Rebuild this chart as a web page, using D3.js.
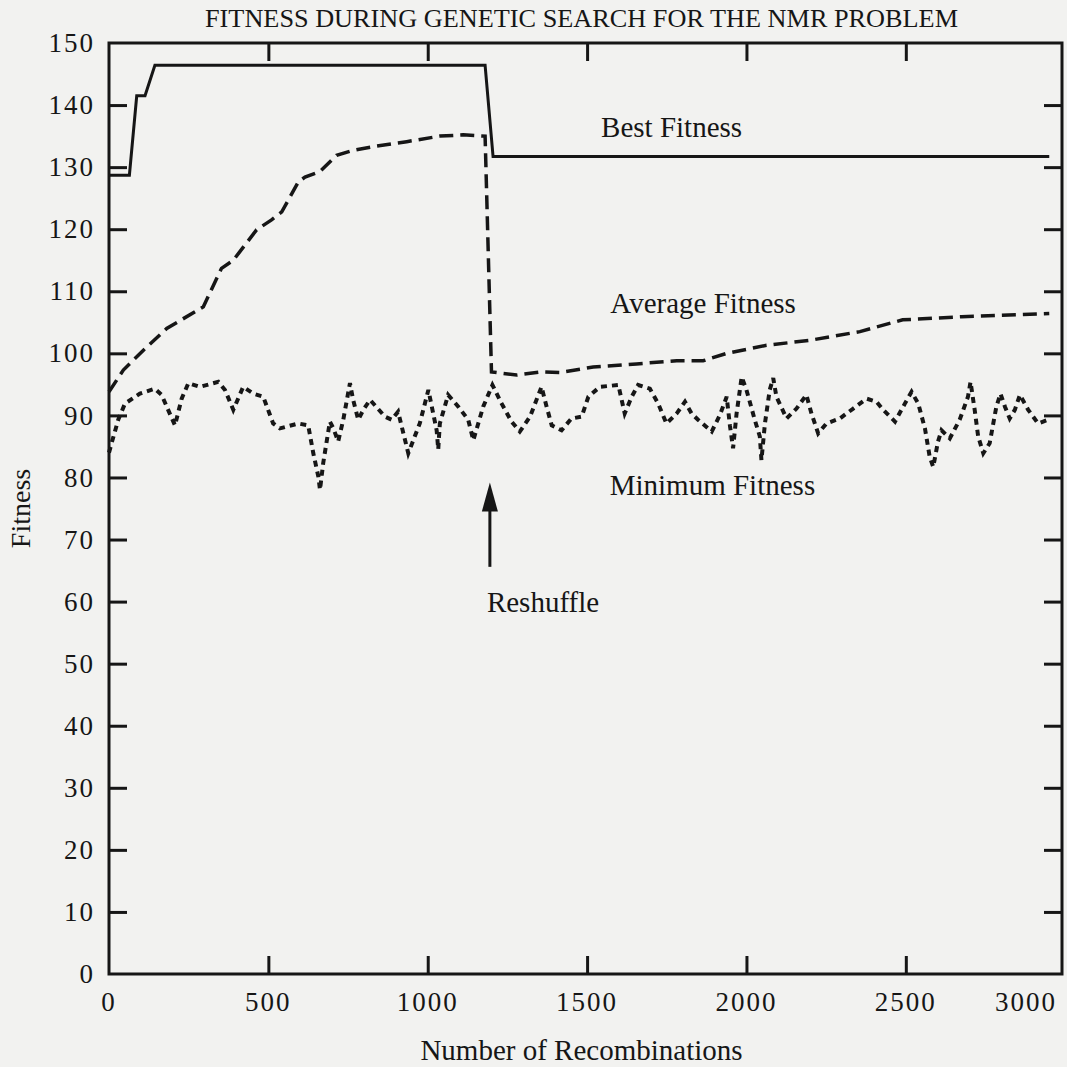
<!DOCTYPE html>
<html>
<head>
<meta charset="utf-8">
<script src="https://cdn.jsdelivr.net/npm/d3@7"></script>
<style>
  html, body { margin: 0; padding: 0; background: #f2f2f0; }
  svg { display: block; }
  text { font-family: "Liberation Serif", "Times New Roman", serif; fill: #161616; }
</style>
</head>
<body>
<svg id="chart" width="1067" height="1067"></svg>
<script>
// Recombinations (x) and fitness (y) for each population statistic
const bestFitness = [
  [0, 128.7], [64, 128.7], [87, 141.5], [113, 141.5], [144, 146.4],
  [1180, 146.4], [1205, 131.7], [2950, 131.7]
];

const averageFitness = [
  [0, 93.8], [45, 97.3], [108, 100.5], [181, 104.0], [296, 107.5], [353, 113.7],
  [390, 115.0], [463, 119.9], [510, 121.5], [542, 122.8], [594, 127.6], [615, 128.4],
  [662, 129.3], [714, 131.9], [766, 132.7], [829, 133.3], [934, 134.1], [1038, 135.0],
  [1111, 135.2], [1180, 135.0], [1200, 97.0], [1279, 96.5], [1352, 97.0], [1415, 96.9],
  [1519, 97.8], [1655, 98.3], [1781, 98.8], [1864, 98.8], [1938, 100.0], [2063, 101.3],
  [2199, 102.1], [2356, 103.5], [2490, 105.4], [2675, 105.9], [2950, 106.4]
];

const minimumFitness = [
  [0, 84.0], [8, 85.5], [29, 89.3], [50, 91.9], [97, 93.5], [144, 94.3], [165, 93.3],
  [207, 88.4], [228, 92.7], [249, 95.2], [285, 94.6], [343, 95.4], [364, 94.1],
  [390, 90.9], [421, 94.6], [453, 93.5], [484, 93.0], [515, 88.7], [536, 87.9],
  [594, 88.7], [625, 88.4], [641, 83.9], [657, 80.1], [662, 78.0], [672, 82.3],
  [693, 89.0], [704, 87.9], [719, 85.8], [735, 89.3], [756, 95.2], [766, 92.5],
  [782, 89.3], [798, 90.9], [819, 92.5], [866, 89.8], [887, 89.3], [907, 90.6],
  [939, 83.9], [975, 88.7], [1002, 94.1], [1028, 87.6], [1033, 84.5], [1038, 88.7],
  [1064, 93.3], [1096, 91.4], [1127, 89.3], [1143, 86.0], [1174, 91.4], [1203, 94.9],
  [1232, 91.9], [1263, 89.0], [1289, 87.4], [1321, 89.8], [1357, 94.6], [1373, 91.4],
  [1389, 88.4], [1420, 87.6], [1451, 89.5], [1483, 89.8], [1504, 93.0], [1540, 94.6],
  [1598, 94.9], [1618, 90.3], [1640, 93.0], [1660, 94.9], [1697, 94.3], [1723, 91.9],
  [1749, 88.7], [1781, 90.3], [1807, 92.2], [1828, 90.3], [1848, 89.3], [1891, 87.4],
  [1917, 90.1], [1938, 93.0], [1948, 88.4], [1958, 84.7], [1969, 90.3], [1985, 96.2],
  [2000, 94.1], [2026, 89.3], [2042, 86.6], [2047, 82.8], [2058, 88.7], [2073, 94.1],
  [2084, 96.0], [2094, 93.0], [2126, 89.5], [2157, 91.1], [2188, 93.3], [2204, 90.3],
  [2225, 87.1], [2251, 88.7], [2293, 89.5], [2335, 91.1], [2377, 92.7], [2408, 92.2],
  [2429, 90.9], [2466, 89.0], [2497, 91.9], [2518, 93.8], [2539, 91.9], [2560, 87.9],
  [2575, 83.3], [2586, 81.7], [2601, 85.8], [2612, 87.6], [2638, 86.3], [2669, 89.3],
  [2695, 93.0], [2703, 95.4], [2716, 90.9], [2727, 86.6], [2743, 83.9], [2763, 85.5],
  [2784, 91.4], [2797, 93.5], [2811, 91.4], [2826, 89.5], [2842, 90.9], [2858, 93.3],
  [2884, 90.9], [2915, 88.7], [2947, 89.3]
];

// Axis ticks and labels
const xTickValues = [500, 1000, 1500, 2000, 2500];
const xLabelValues = [0, 500, 1000, 1500, 2000, 2500, 3000];
const yTickValues = [10, 20, 30, 40, 50, 60, 70, 80, 90, 100, 110, 120, 130, 140];
const yLabelValues = [0, 10, 20, 30, 40, 50, 60, 70, 80, 90, 100, 110, 120, 130, 140, 150];

// Series labels and the reshuffle marker, in data units
const seriesLabels = [
  { text: "Best Fitness", x: 1544, y: 134.9 },
  { text: "Average Fitness", x: 1573, y: 106.5 },
  { text: "Minimum Fitness", x: 1571, y: 77.2 }
];
const reshuffle = { x: 1195, from: 65.6, to: 79.2, label: "Reshuffle", labelY: 58.3 };

const titleText = "FITNESS DURING GENETIC SEARCH FOR THE NMR PROBLEM";
const xTitle = "Number of Recombinations";
const yTitle = "Fitness";

// Layout
const W = 1067, H = 1067;
const plot = { left: 109, right: 1062, top: 43, bottom: 974 };
const ink = "#161616";

const svg = d3.select("#chart");
svg.append("rect").attr("width", W).attr("height", H).attr("fill", "#f2f2f0");

const x = d3.scaleLinear().domain([0, 2990]).range([plot.left, plot.right]);
const y = d3.scaleLinear().domain([0, 150]).range([plot.bottom, plot.top]);

// Tick marks point into the frame on all four sides
const tickLen = 18;
function styleTicks(g) {
  g.select(".domain").remove();
  g.selectAll(".tick line").attr("stroke", ink).attr("stroke-width", 3);
}

svg.append("g").attr("transform", `translate(${plot.left},0)`)
  .call(d3.axisLeft(y).tickValues(yTickValues).tickSize(-tickLen).tickFormat(""))
  .call(styleTicks);
svg.append("g").attr("transform", `translate(${plot.right},0)`)
  .call(d3.axisRight(y).tickValues(yTickValues).tickSize(-tickLen).tickFormat(""))
  .call(styleTicks);
svg.append("g").attr("transform", `translate(0,${plot.bottom})`)
  .call(d3.axisBottom(x).tickValues(xTickValues).tickSize(-tickLen).tickFormat(""))
  .call(styleTicks);
svg.append("g").attr("transform", `translate(0,${plot.top})`)
  .call(d3.axisTop(x).tickValues(xTickValues).tickSize(-tickLen).tickFormat(""))
  .call(styleTicks);

// Tick labels
const yLabels = svg.append("g").attr("transform", `translate(${plot.left},0)`)
  .call(d3.axisLeft(y).tickValues(yLabelValues).tickSize(0).tickPadding(14).tickFormat(d3.format("d")));
yLabels.select(".domain").remove();
yLabels.selectAll("text")
  .attr("font-size", 27).attr("letter-spacing", 2)
  .attr("font-family", "Liberation Serif").attr("fill", ink);

const xLabels = svg.append("g").attr("transform", `translate(0,${plot.bottom})`)
  .call(d3.axisBottom(x).tickValues(xLabelValues).tickSize(0).tickPadding(18).tickFormat(d3.format("d")));
xLabels.select(".domain").remove();
xLabels.selectAll("text")
  .attr("font-size", 27).attr("letter-spacing", 2)
  .attr("font-family", "Liberation Serif").attr("fill", ink);
// keep the last label inside the frame
xLabels.selectAll(".tick").attr("transform", d => `translate(${Math.min(x(d), plot.right - 36)},0)`);

// Frame
svg.append("rect")
  .attr("x", plot.left).attr("y", plot.top)
  .attr("width", plot.right - plot.left).attr("height", plot.bottom - plot.top)
  .attr("fill", "none").attr("stroke", ink).attr("stroke-width", 3);

// Series
const line = d3.line().x(d => x(d[0])).y(d => y(d[1]));

svg.append("path").datum(bestFitness)
  .attr("d", line).attr("fill", "none").attr("stroke", ink)
  .attr("stroke-width", 3).attr("stroke-linejoin", "miter");

svg.append("path").datum(averageFitness)
  .attr("d", line).attr("fill", "none").attr("stroke", ink)
  .attr("stroke-width", 3.5).attr("stroke-dasharray", "14 7");

svg.append("path").datum(minimumFitness)
  .attr("d", line).attr("fill", "none").attr("stroke", ink)
  .attr("stroke-width", 4).attr("stroke-dasharray", "6 5");

// Series labels
svg.append("g").selectAll("text").data(seriesLabels).join("text")
  .attr("x", d => x(d.x)).attr("y", d => y(d.y))
  .attr("font-size", 29).text(d => d.text);

// Reshuffle arrow
const ax = x(reshuffle.x);
const tipY = y(reshuffle.to);
const headLen = 29, headHalf = 8;
svg.append("line")
  .attr("x1", ax).attr("x2", ax)
  .attr("y1", y(reshuffle.from)).attr("y2", tipY + headLen - 2)
  .attr("stroke", ink).attr("stroke-width", 3);
svg.append("path")
  .attr("d", `M${ax},${tipY} L${ax - headHalf},${tipY + headLen} L${ax + headHalf},${tipY + headLen} Z`)
  .attr("fill", ink);
svg.append("text")
  .attr("x", ax - 3).attr("y", y(reshuffle.labelY))
  .attr("font-size", 29).text(reshuffle.label);

// Titles
svg.append("text")
  .attr("x", (205 + 958) / 2).attr("y", 27)
  .attr("text-anchor", "middle").attr("font-size", 25)
  .attr("textLength", 753).attr("lengthAdjust", "spacingAndGlyphs")
  .text(titleText);

svg.append("text")
  .attr("x", (415 + 748) / 2).attr("y", 1060)
  .attr("text-anchor", "middle").attr("font-size", 29)
  .text(xTitle);

svg.append("text")
  .attr("transform", `translate(30,${(plot.top + plot.bottom) / 2}) rotate(-90)`)
  .attr("text-anchor", "middle").attr("font-size", 28)
  .text(yTitle);
</script>
</body>
</html>
